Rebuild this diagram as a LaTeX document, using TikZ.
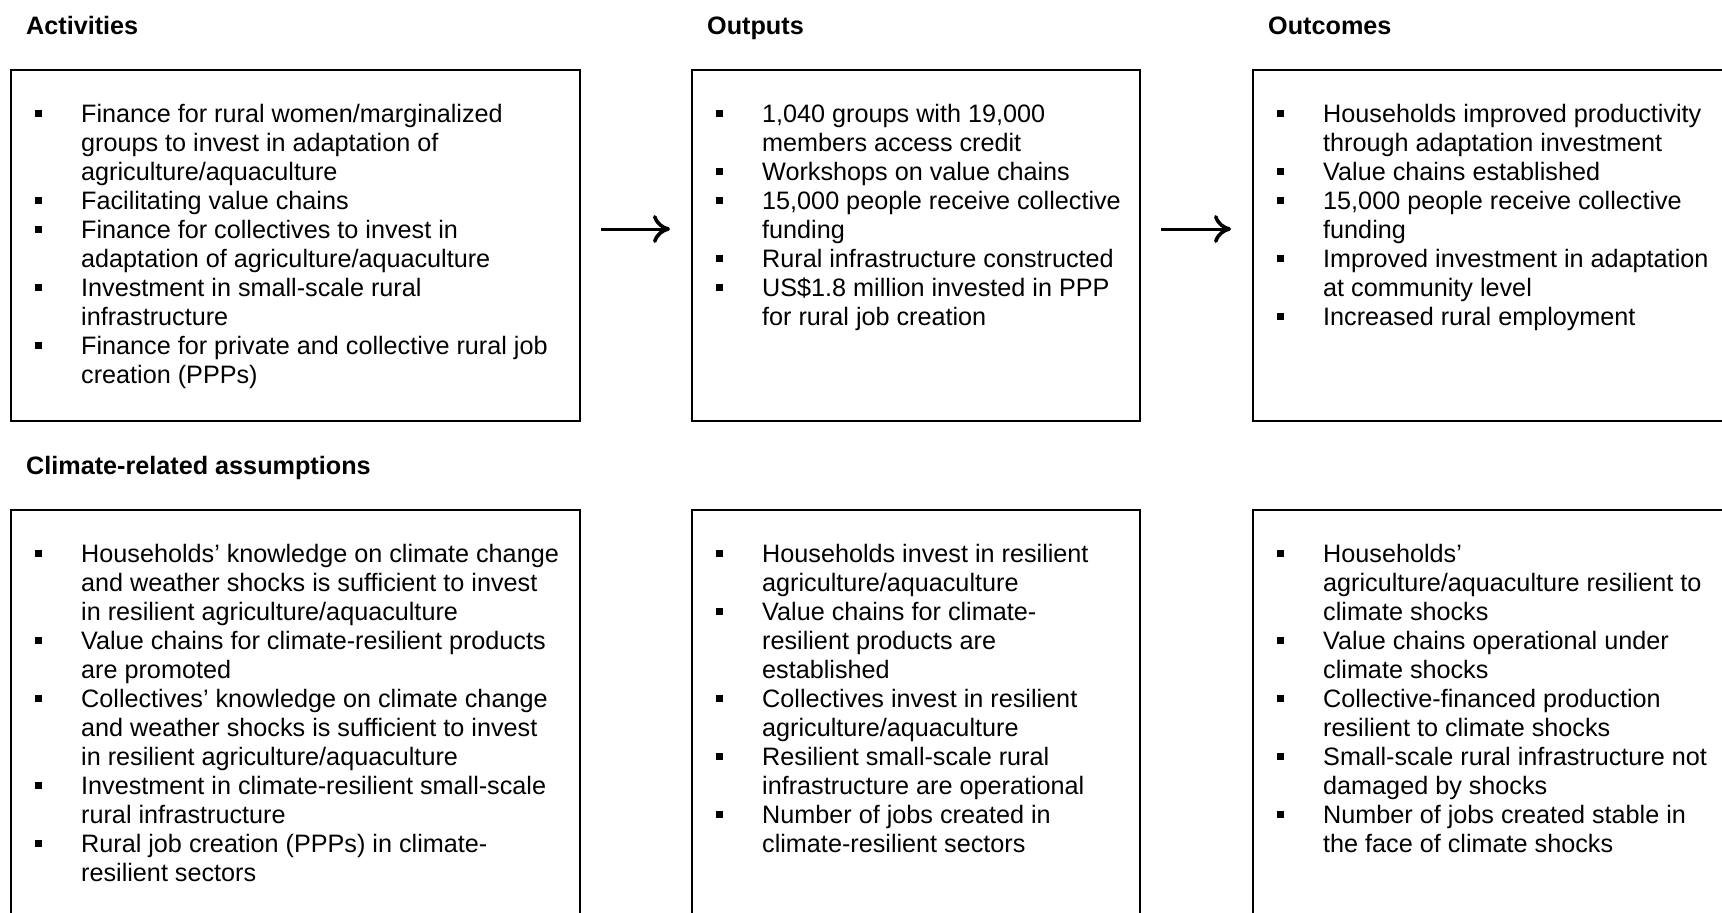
\documentclass[tikz,border=0pt]{standalone}
\usepackage{fontspec}
\setmainfont{Liberation Sans}
\usetikzlibrary{arrows.meta}
\newcommand{\bsq}{\rule[5pt]{7pt}{7pt}}
\newcommand{\blist}[1]{\begin{tabular}[t]{@{}l@{\hspace{39.5pt}}l@{}}#1\end{tabular}}
\tikzset{
  box/.style={draw, line width=2pt, anchor=north west, inner sep=0pt, outer sep=0pt},
  head/.style={anchor=base west, inner sep=0pt, font=\fontsize{25.2}{29}\selectfont\bfseries},
  body/.style={anchor=base west, inner sep=0pt, font=\fontsize{25.2}{29}\selectfont},
  arr/.style={line width=3pt, -{Computer Modern Rightarrow[length=17pt,width=28pt,line width=3.6pt]}, shorten <=21pt, shorten >=22pt},
}
\begin{document}
\begin{tikzpicture}[x=1pt,y=-1pt]
\useasboundingbox (0,0) rectangle (1722,913);
\fill[white] (0,0) rectangle (1722,913);
\clip (0,0) rectangle (1722,913);

% top row boxes
\node[box, minimum width=569pt, minimum height=351pt] (b1) at (11,70) {};
\node[box, minimum width=448pt, minimum height=351pt] (b2) at (692,70) {};
\node[box, minimum width=507pt, minimum height=351pt] (b3) at (1253,70) {};
% bottom row boxes
\node[box, minimum width=569pt, minimum height=450pt] (c1) at (11,510) {};
\node[box, minimum width=448pt, minimum height=450pt] (c2) at (692,510) {};
\node[box, minimum width=507pt, minimum height=450pt] (c3) at (1253,510) {};

% headings
\node[head] (h1) at ([xshift=15pt,yshift=36pt]b1.north west) {Activities};
\node[head] (h2) at ([xshift=15pt,yshift=36pt]b2.north west) {Outputs};
\node[head] (h3) at ([xshift=15pt,yshift=36pt]b3.north west) {Outcomes};
\node[head] (h4) at ([xshift=15pt,yshift=36pt]c1.north west) {Climate-related assumptions};

% texts
\node[body] (t1) at ([xshift=23.5pt,yshift=-52pt]b1.north west) {\blist{%
\bsq & Finance for rural women/marginalized\\
 & groups to invest in adaptation of\\
 & agriculture/aquaculture\\
\bsq & Facilitating value chains\\
\bsq & Finance for collectives to invest in\\
 & adaptation of agriculture/aquaculture\\
\bsq & Investment in small-scale rural\\
 & infrastructure\\
\bsq & Finance for private and collective rural job\\
 & creation (PPPs)}};

\node[body] (t2) at ([xshift=23.5pt,yshift=-52pt]b2.north west) {\blist{%
\bsq & 1,040 groups with 19,000\\
 & members access credit\\
\bsq & Workshops on value chains\\
\bsq & 15,000 people receive collective\\
 & funding\\
\bsq & Rural infrastructure constructed\\
\bsq & US\$1.8 million invested in PPP\\
 & for rural job creation}};

\node[body] (t3) at ([xshift=23.5pt,yshift=-52pt]b3.north west) {\blist{%
\bsq & Households improved productivity\\
 & through adaptation investment\\
\bsq & Value chains established\\
\bsq & 15,000 people receive collective\\
 & funding\\
\bsq & Improved investment in adaptation\\
 & at community level\\
\bsq & Increased rural employment}};

\node[body] (t4) at ([xshift=23.5pt,yshift=-52pt]c1.north west) {\blist{%
\bsq & Households’ knowledge on climate change\\
 & and weather shocks is sufficient to invest\\
 & in resilient agriculture/aquaculture\\
\bsq & Value chains for climate-resilient products\\
 & are promoted\\
\bsq & Collectives’ knowledge on climate change\\
 & and weather shocks is sufficient to invest\\
 & in resilient agriculture/aquaculture\\
\bsq & Investment in climate-resilient small-scale\\
 & rural infrastructure\\
\bsq & Rural job creation (PPPs) in climate-\\
 & resilient sectors}};

\node[body] (t5) at ([xshift=23.5pt,yshift=-52pt]c2.north west) {\blist{%
\bsq & Households invest in resilient\\
 & agriculture/aquaculture\\
\bsq & Value chains for climate-\\
 & resilient products are\\
 & established\\
\bsq & Collectives invest in resilient\\
 & agriculture/aquaculture\\
\bsq & Resilient small-scale rural\\
 & infrastructure are operational\\
\bsq & Number of jobs created in\\
 & climate-resilient sectors}};

\node[body] (t6) at ([xshift=23.5pt,yshift=-52pt]c3.north west) {\blist{%
\bsq & Households’\\
 & agriculture/aquaculture resilient to\\
 & climate shocks\\
\bsq & Value chains operational under\\
 & climate shocks\\
\bsq & Collective-financed production\\
 & resilient to climate shocks\\
\bsq & Small-scale rural infrastructure not\\
 & damaged by shocks\\
\bsq & Number of jobs created stable in\\
 & the face of climate shocks}};

% arrows
\draw[arr] ([yshift=16.5pt]b1.east) -- ([yshift=16.5pt]b2.west);
\draw[arr] ([yshift=16.5pt]b2.east) -- ([yshift=16.5pt]b3.west);
\end{tikzpicture}
\end{document}
